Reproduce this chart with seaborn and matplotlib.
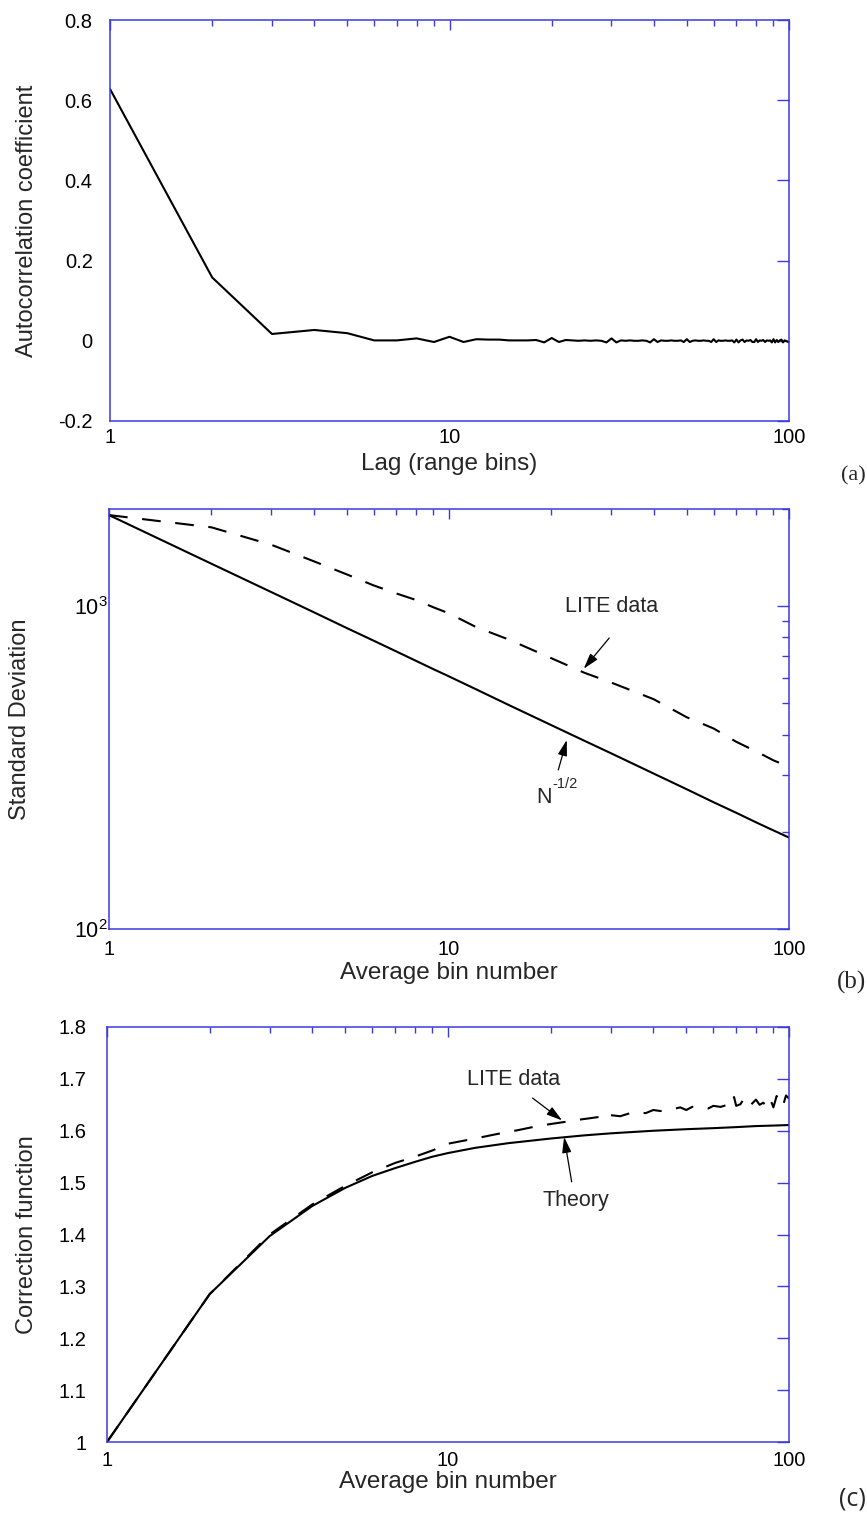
import numpy as np
import pandas as pd
import matplotlib
matplotlib.use('Agg')
import matplotlib.pyplot as plt
import matplotlib.ticker as mticker
import seaborn as sns

# ---- data ----
# (a) autocorrelation vs lag 1..100
lag = list(range(1, 101))
acf = [0.628, 0.158, 0.017, 0.027, 0.019, 0.001, 0.001, 0.006, -0.003, 0.010,
       -0.003, 0.004, 0.003, 0.003, 0.001, 0.001, 0.001, 0.002, -0.004, 0.007,
       -0.003, 0.002, 0.001, 0.000, 0.001, 0.000, 0.001, 0.000, -0.004, 0.006,
       -0.004, 0.001, 0.000, 0.001, 0.000, 0.000, 0.001, 0.000, -0.004, 0.004,
       -0.003, 0.001, 0.000, 0.000, 0.001, 0.000, 0.000, 0.001, -0.003, 0.004,
       -0.003, 0.000, 0.001, 0.000, 0.000, 0.001, 0.000, 0.000, -0.003, 0.004,
       -0.003, 0.001, 0.000, 0.000, 0.001, 0.000, 0.000, 0.001, -0.004, 0.003,
       -0.004, 0.001, 0.003, -0.003, 0.001, 0.000, 0.002, -0.003, -0.003, 0.004,
       -0.003, 0.001, 0.000, 0.002, -0.003, 0.001, 0.000, 0.001, -0.004, 0.004,
       -0.004, 0.002, -0.003, 0.001, 0.003, -0.004, 0.001, 0.000, -0.002, -0.004]

# (b) standard deviation vs number of averaged bins
n_b = [1, 2, 3, 4, 5, 6, 7, 8, 9, 10, 12, 15, 20, 25, 30, 40, 50, 60, 70, 80, 90, 100]
sd_theory = [1915, 1354, 1106, 958, 856, 782, 724, 677, 638, 606, 553, 494,
             428, 383, 350, 303, 271, 247, 229, 214, 202, 192]
sd_lite = [1915, 1755, 1550, 1378, 1255, 1160, 1095, 1045, 992, 950, 862, 788,
           690, 622, 580, 515, 453, 418, 380, 355, 333, 318]

# (c) correction function
n_c = [1, 2, 3, 4, 5, 6, 7, 8, 9, 10, 12, 15, 20, 25, 30, 40, 50, 60, 70, 80, 90, 100]
corr_theory = [1.000, 1.285, 1.397, 1.455, 1.490, 1.513, 1.528, 1.540, 1.550, 1.557,
               1.567, 1.576, 1.585, 1.591, 1.595, 1.600, 1.603, 1.605, 1.607, 1.609,
               1.610, 1.611]
n_lite_c = [1, 2, 3, 4, 5, 6, 7, 8, 9, 10, 12, 14, 16, 18, 20, 22, 24, 26, 28, 29,
            30, 32, 35, 38, 40, 42, 45, 48, 50, 52, 55, 58, 60, 63, 66, 68, 69, 70,
            72, 74, 75, 77, 80, 82, 84, 86, 88, 90, 92, 94, 96, 98, 100]
corr_lite = [1.000, 1.285, 1.400, 1.458, 1.494, 1.520, 1.538, 1.550, 1.562, 1.575,
             1.585, 1.594, 1.601, 1.608, 1.613, 1.617, 1.621, 1.624, 1.627, 1.622,
             1.630, 1.628, 1.636, 1.634, 1.640, 1.638, 1.641, 1.645, 1.640, 1.646,
             1.647, 1.643, 1.648, 1.646, 1.650, 1.648, 1.665, 1.648, 1.651, 1.663,
             1.655, 1.649, 1.660, 1.650, 1.654, 1.648, 1.662, 1.645, 1.667, 1.650,
             1.648, 1.668, 1.662]

# ---- style ----
sns.set_style('white')
plt.rcParams['font.family'] = ['Liberation Sans', 'DejaVu Sans']
plt.rcParams['mathtext.fontset'] = 'custom'
plt.rcParams['mathtext.rm'] = 'Liberation Sans'
plt.rcParams['mathtext.it'] = 'Liberation Sans:italic'

BLUE = '#3a3ae0'
DASH = (0, (9, 7))

fig = plt.figure(figsize=(8.67, 15.15), dpi=100)
W, H = 867, 1515


def add_axes(l, r, t, b):
    return fig.add_axes([l / W, 1 - b / H, (r - l) / W, (b - t) / H])


ax_a = add_axes(110, 789, 20, 421)
ax_b = add_axes(109, 789, 509, 929)
ax_c = add_axes(107, 789, 1027, 1442)


def style(ax, ypad, xpad):
    for s in ax.spines.values():
        s.set_color(BLUE)
        s.set_linewidth(1.1)
    ax.set_xscale('log')
    ax.set_xlim(1, 100)
    ax.xaxis.set_major_locator(mticker.FixedLocator([1, 10, 100]))
    ax.xaxis.set_major_formatter(mticker.FuncFormatter(lambda v, p: f'{v:g}'))
    ax.xaxis.set_minor_locator(mticker.LogLocator(base=10, subs=np.arange(2, 10)))
    ax.xaxis.set_minor_formatter(mticker.NullFormatter())
    ax.tick_params(which='both', direction='in', top=True, right=True,
                   color=BLUE, width=1.0, labelsize=14.5, labelcolor='black')
    ax.tick_params(axis='y', which='major', length=9, pad=ypad)
    ax.tick_params(axis='y', which='minor', length=5)
    ax.tick_params(axis='x', which='major', length=7, pad=xpad)
    ax.tick_params(axis='x', which='minor', length=4.5)


arrow = dict(arrowstyle='-|>,head_length=0.95,head_width=0.28', lw=0.9,
             color='black', shrinkA=0, shrinkB=0)

# (a)
sns.lineplot(x=lag, y=acf, ax=ax_a, color='black', lw=1.5)
style(ax_a, ypad=12.5, xpad=5)
ax_a.set_ylim(-0.2, 0.8)
ax_a.yaxis.set_major_locator(mticker.FixedLocator([-0.2, 0, 0.2, 0.4, 0.6, 0.8]))
ax_a.yaxis.set_major_formatter(mticker.FuncFormatter(
    lambda v, p: '0' if abs(v) < 1e-9 else f'{v:g}'))
ax_a.set_xlabel('Lag (range bins)', fontsize=17.5, va='top')
ax_a.set_ylabel('Autocorrelation coefficient', fontsize=17)
ax_a.xaxis.set_label_coords(0.5, -0.08)
ax_a.yaxis.set_label_coords(-0.106, 0.5)

# (b)
sns.lineplot(x=n_b, y=sd_theory, ax=ax_b, color='black', lw=1.5)
sns.lineplot(x=n_b, y=sd_lite, ax=ax_b, color='black', lw=1.5, linestyle=DASH)
style(ax_b, ypad=1, xpad=8)
ax_b.set_yscale('log')
ax_b.set_ylim(100, 2000)
ax_b.yaxis.set_major_locator(mticker.FixedLocator([100, 1000]))
ax_b.yaxis.set_major_formatter(mticker.LogFormatterSciNotation())
ax_b.yaxis.set_minor_locator(mticker.LogLocator(base=10, subs=np.arange(2, 10)))
ax_b.yaxis.set_minor_formatter(mticker.NullFormatter())
ax_b.tick_params(axis='y', which='major', labelsize=15.5)
ax_b.set_xlabel('Average bin number', fontsize=17.5, va='top')
ax_b.set_ylabel('Standard Deviation', fontsize=17)
ax_b.xaxis.set_label_coords(0.5, -0.079)
ax_b.yaxis.set_label_coords(-0.115, 0.5)
ax_b.text(30, 995, 'LITE data', fontsize=15.5, ha='center', va='center')
ax_b.annotate('', xy=(24.9, 640), xytext=(29.6, 797), arrowprops=arrow)
# N^-1/2 label: base letter and a small raised exponent
ax_b.text(19.0, 255, 'N', fontsize=15.5, ha='center', va='center')
ax_b.annotate('-1/2', xy=(19.0, 255), xytext=(6, 5), textcoords='offset points',
              fontsize=10.5, ha='left', va='bottom')
ax_b.annotate('', xy=(22.2, 385), xytext=(20.96, 311), arrowprops=arrow)

# (c)
sns.lineplot(x=n_c, y=corr_theory, ax=ax_c, color='black', lw=1.5)
sns.lineplot(x=n_lite_c, y=corr_lite, ax=ax_c, color='black', lw=1.5, linestyle=DASH)
style(ax_c, ypad=15, xpad=6.5)
ax_c.set_ylim(1.0, 1.8)
ax_c.yaxis.set_major_locator(mticker.FixedLocator(np.round(np.arange(1.0, 1.81, 0.1), 1)))
ax_c.yaxis.set_major_formatter(mticker.FuncFormatter(lambda v, p: f'{v:g}'))
ax_c.set_xlabel('Average bin number', fontsize=17.5, va='top')
ax_c.set_ylabel('Correction function', fontsize=17)
ax_c.xaxis.set_label_coords(0.5, -0.07)
ax_c.yaxis.set_label_coords(-0.101, 0.5)
ax_c.text(15.6, 1.699, 'LITE data', fontsize=15.5, ha='center', va='center')
ax_c.annotate('', xy=(21.6, 1.62), xytext=(17.7, 1.663), arrowprops=arrow)
ax_c.text(23.7, 1.466, 'Theory', fontsize=15.5, ha='center', va='center')
ax_c.annotate('', xy=(21.9, 1.588), xytext=(23.05, 1.5015), arrowprops=arrow)

# panel letters
fig.text(866 / W, 1 - 476 / H, '(a)', fontsize=16, ha='right', va='center',
         family=['Liberation Serif'])
fig.text(866 / W, 1 - 982 / H, '(b)', fontsize=18, ha='right', va='center',
         family=['Liberation Serif'])
fig.text(866 / W, 1 - 1499 / H, '(c)', fontsize=18, ha='right', va='center',
         family=['Open Sans', 'DejaVu Sans'])

fig.savefig('out.png', dpi=100)
